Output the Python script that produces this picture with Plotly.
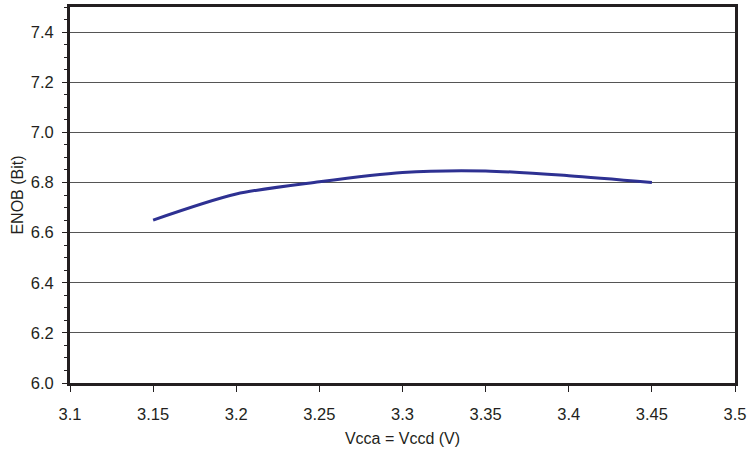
import plotly.graph_objects as go

vcc = [3.15, 3.20, 3.25, 3.30, 3.35, 3.40, 3.45]
enob = [6.65, 6.754, 6.803, 6.840, 6.846, 6.827, 6.80]

fig = go.Figure()
fig.add_trace(go.Scatter(x=vcc, y=enob, mode="lines",
                         line=dict(color="#2E3192", width=3, shape="spline", smoothing=0.8),
                         showlegend=False))

tickfont = dict(family="Liberation Sans, Arial, sans-serif", size=16.5, color="#231F20")
titlefont = dict(family="Liberation Sans, Arial, sans-serif", size=16, color="#231F20")
fig.update_layout(
    width=751, height=452,
    margin=dict(l=70, r=16, t=7, b=69),
    paper_bgcolor="white", plot_bgcolor="white",
    font=tickfont,
    xaxis=dict(range=[3.1, 3.5], tickvals=[3.1, 3.15, 3.2, 3.25, 3.3, 3.35, 3.4, 3.45, 3.5],
               ticktext=["3.1", "3.15", "3.2", "3.25", "3.3", "3.35", "3.4", "3.45", "3.5"],
               ticks="outside", ticklen=6, tickcolor="#231F20", tickwidth=1,
               ticklabelstandoff=8, tickfont=tickfont, automargin=False,
               showgrid=False, zeroline=False,
               showline=True, linecolor="#231F20", linewidth=3, mirror=True,
               title=dict(text="Vcca = Vccd (V)", font=titlefont, standoff=12)),
    yaxis=dict(range=[6.0, 7.5], tickvals=[6.0, 6.2, 6.4, 6.6, 6.8, 7.0, 7.2, 7.4],
               ticktext=["6.0", "6.2", "6.4", "6.6", "6.8", "7.0", "7.2", "7.4"],
               ticks="outside", ticklen=5, tickcolor="#231F20", tickwidth=1,
               ticklabelstandoff=5, tickfont=tickfont, automargin=False,
               minor=dict(dtick=0.05, tick0=6.0, ticks="outside", ticklen=3, tickcolor="#231F20", showgrid=False),
               showgrid=True, gridcolor="#555555", gridwidth=1, zeroline=False,
               showline=True, linecolor="#231F20", linewidth=3, mirror=True,
               title=dict(text="ENOB (Bit)", font=titlefont, standoff=4)),
)
fig.write_html("out.html", config={"displayModeBar": False},
               post_script="document.body.style.margin='0';document.body.style.overflow='hidden';")
